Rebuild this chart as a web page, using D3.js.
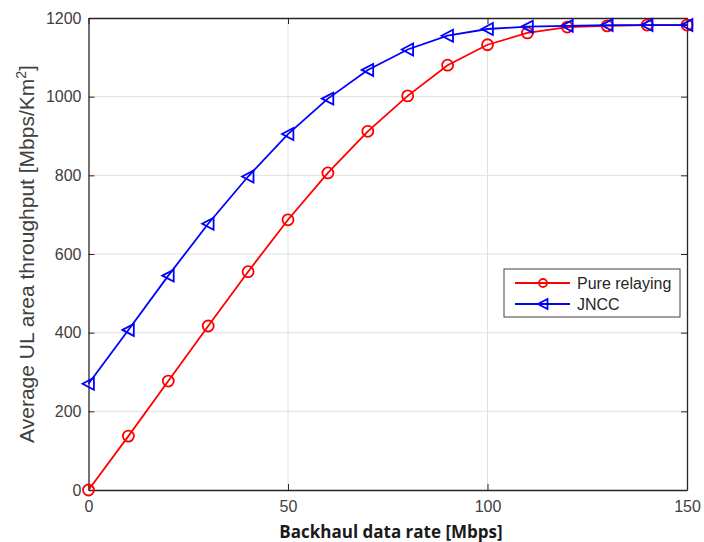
<!DOCTYPE html>
<html><head><meta charset="utf-8">
<script src="https://cdn.jsdelivr.net/npm/d3@7"></script>
<style>body{margin:0;background:#fff}svg{display:block}</style>
</head><body><svg id="c" width="704" height="542"></svg>
<script>
const xValues = [0,10,20,30,40,50,60,70,80,90,100,110,120,130,140,150];
const pureRelaying = [0,137,277,417,555,687,806,912,1002,1080,1132,1162,1177,1180,1182,1182];
const jncc = [270,407,545,677,797,905,995,1068,1120,1155,1172,1178,1180,1182,1182,1182];
const xTicks = [0,50,100,150];
const yTicks = [0,200,400,600,800,1000,1200];
const seriesNames = ["Pure relaying","JNCC"];

const svg = d3.select("#c");
const L=88.5,R=687,T=18,B=490;
const x = d3.scaleLinear().domain([0,150]).range([L,R]);
const y = d3.scaleLinear().domain([0,1200]).range([B,T]);
const tickCol="#404040";

// grid
svg.append("g").selectAll("line").data(xTicks.slice(1,-1)).join("line")
 .attr("x1",d=>x(d)).attr("x2",d=>x(d)).attr("y1",T).attr("y2",B)
 .attr("stroke","#e0e0e0").attr("stroke-width",1);
svg.append("g").selectAll("line").data(yTicks.slice(1,-1)).join("line")
 .attr("y1",d=>y(d)).attr("y2",d=>y(d)).attr("x1",L).attr("x2",R)
 .attr("stroke","#e0e0e0").attr("stroke-width",1);

// axes
const fnt='"Liberation Sans", Arial, sans-serif';
const fmt = d3.format("d");
const xAxis = svg.append("g").attr("transform",`translate(0,${B})`)
 .call(d3.axisBottom(x).tickValues(xTicks).tickFormat(fmt).tickSize(-6).tickPadding(11).tickSizeOuter(0));
const xTop = svg.append("g").attr("transform",`translate(0,${T})`)
 .call(d3.axisTop(x).tickValues(xTicks).tickSize(-6).tickFormat("").tickSizeOuter(0));
const yAxis = svg.append("g").attr("transform",`translate(${L},0)`)
 .call(d3.axisLeft(y).tickValues(yTicks).tickFormat(fmt).tickSize(-6).tickPadding(7).tickSizeOuter(0));
const yRight = svg.append("g").attr("transform",`translate(${R},0)`)
 .call(d3.axisRight(y).tickValues(yTicks).tickSize(-6).tickFormat("").tickSizeOuter(0));
[xAxis,xTop,yAxis,yRight].forEach(g=>{
 g.selectAll("path").attr("stroke","#262626").attr("stroke-width",1.3);
 g.selectAll("line").attr("stroke","#262626");
 g.selectAll("text").attr("fill",tickCol).attr("font-family",fnt).attr("font-size",16);
});

// series
const data = [
 {name:seriesNames[0],vals:pureRelaying,color:"#ff0000",marker:"circle"},
 {name:seriesNames[1],vals:jncc,color:"#0000ff",marker:"tri"}
];
const line = d3.line().x((d,i)=>x(xValues[i])).y(d=>y(d));
const triPath = s=>`M${-s},0 L${s*0.9},${-s} L${s*0.9},${s} Z`;
function drawMarker(g,type,color){
 if(type==="circle") g.append("circle").attr("r",5.5).attr("fill","none").attr("stroke",color).attr("stroke-width",1.8);
 else g.append("path").attr("d",triPath(6)).attr("fill","none").attr("stroke",color).attr("stroke-width",1.8);
}
data.forEach(s=>{
 svg.append("path").datum(s.vals).attr("d",line).attr("fill","none")
  .attr("stroke",s.color).attr("stroke-width",1.8);
 svg.append("g").selectAll("g").data(s.vals).join("g")
  .attr("transform",(d,i)=>`translate(${x(xValues[i])},${y(d)})`)
  .each(function(){drawMarker(d3.select(this),s.marker,s.color);});
});

// labels
svg.append("text").attr("x",391).attr("y",538).attr("text-anchor","middle")
 .attr("font-family",'"Open Sans", Lato, sans-serif').attr("font-weight","bold")
 .attr("font-size",17).attr("fill","#1a1a1a").text("Backhaul data rate [Mbps]");
const yl = svg.append("text").attr("transform",`translate(34,${(T+B)/2}) rotate(-90)`)
 .attr("text-anchor","middle").attr("font-family",fnt).attr("font-size",21).attr("fill",tickCol);
yl.append("tspan").text("Average UL area throughput [Mbps/Km");
yl.append("tspan").attr("font-size",14).attr("dy",-8).text("2");
yl.append("tspan").attr("dy",8).text("]");

// legend
const lg = svg.append("g");
lg.append("rect").attr("x",504).attr("y",269).attr("width",176).attr("height",48)
 .attr("fill","#fff").attr("stroke","#404040").attr("stroke-width",1);
data.forEach((s,i)=>{
 const yy = 283+i*21;
 lg.append("line").attr("x1",515).attr("x2",570).attr("y1",yy).attr("y2",yy)
  .attr("stroke",s.color).attr("stroke-width",1.8);
 const m = lg.append("g").attr("transform",`translate(543,${yy})`);
 if(s.marker==="circle") m.append("circle").attr("r",4).attr("fill","none").attr("stroke",s.color).attr("stroke-width",1.8);
 else m.append("path").attr("d",triPath(5)).attr("fill","none").attr("stroke",s.color).attr("stroke-width",1.8);
 lg.append("text").attr("x",577).attr("y",yy+5.5).attr("font-family",fnt).attr("font-size",16)
  .attr("fill","#262626").text(s.name);
});
</script></body></html>
